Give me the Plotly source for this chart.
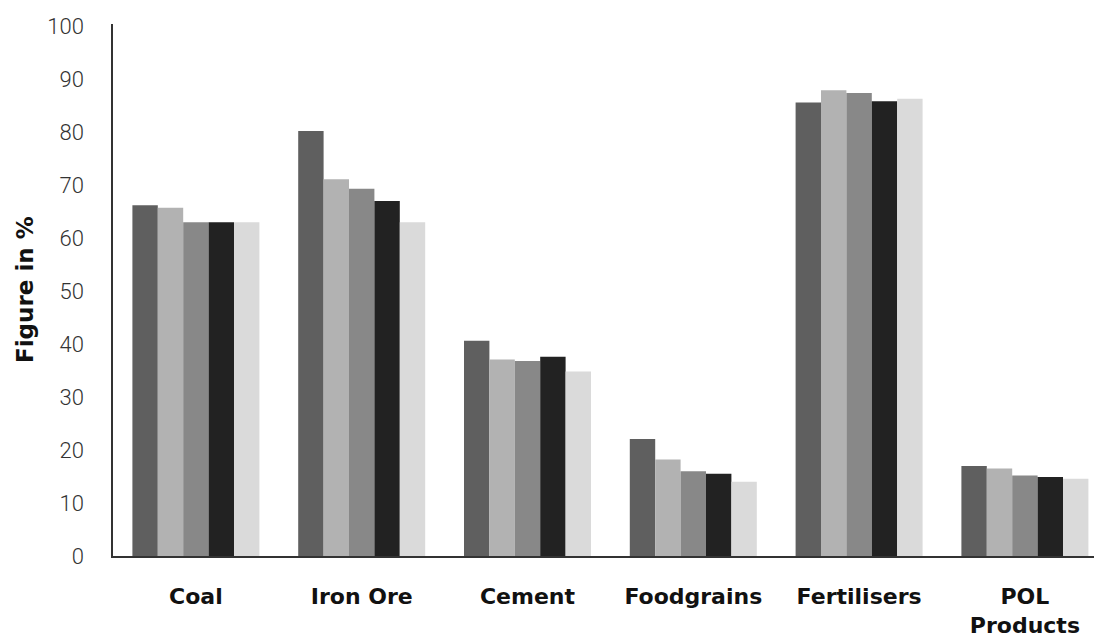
import plotly.graph_objects as go

categories = ["Coal", "Iron Ore", "Cement", "Foodgrains", "Fertilisers", "POL<br>Products"]
series_names = ["Series 1", "Series 2", "Series 3", "Series 4", "Series 5"]
s1 = [66.2, 80.2, 40.6, 22.1, 85.6, 17.0]
s2 = [65.7, 71.1, 37.1, 18.2, 87.9, 16.5]
s3 = [63.0, 69.3, 36.8, 16.0, 87.4, 15.2]
s4 = [63.0, 67.0, 37.6, 15.5, 85.8, 14.9]
s5 = [63.0, 63.0, 34.8, 14.0, 86.3, 14.6]
colors = ["#5f5f5f", "#b2b2b2", "#888888", "#222222", "#dadada"]
y_ticks = [0, 10, 20, 30, 40, 50, 60, 70, 80, 90, 100]

fig = go.Figure()
for name, vals, col in zip(series_names, [s1, s2, s3, s4, s5], colors):
    fig.add_trace(go.Bar(x=categories, y=vals, name=name,
                         marker=dict(color=col, line=dict(width=0))))

fig.update_layout(
    width=1094, height=631,
    margin=dict(l=105, r=0, t=16, b=83),
    barmode="group", bargap=0.234, bargroupgap=0,
    plot_bgcolor="white", paper_bgcolor="white",
    showlegend=False,
    font=dict(family="Roboto, Lato, sans-serif", color="#222222"),
)
fig.update_xaxes(
    range=[-0.5, 5.465],
    showline=True, linecolor="#333333", linewidth=1.5,
    showgrid=False, ticks="",
    tickfont=dict(family="DejaVu Sans, sans-serif", size=22, color="#111111", weight="bold"),
    ticklabelstandoff=20,
)
fig.update_yaxes(
    range=[0, 100.4],
    tickvals=y_ticks,
    showline=True, linecolor="#333333", linewidth=1.5,
    showgrid=False, ticks="", zeroline=False,
    tickfont=dict(family="Roboto, sans-serif", size=22, color="#333333", weight=300),
    ticklabelstandoff=23,
)
fig.add_annotation(
    text="Figure in %", textangle=-90, showarrow=False,
    xref="paper", yref="paper", x=(17 - 105) / 989.0, y=0.5,
    xanchor="center", yanchor="middle",
    font=dict(family="DejaVu Sans, sans-serif", size=23, color="#111111", weight="bold"),
)

fig.write_html("out.html")
